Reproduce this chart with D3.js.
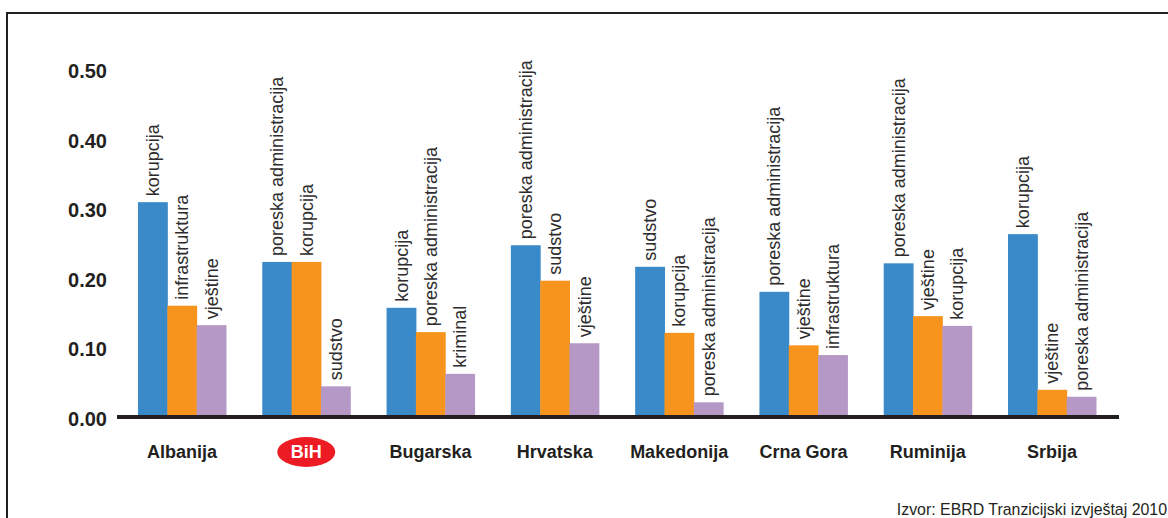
<!DOCTYPE html>
<html>
<head>
<meta charset="utf-8">
<script src="https://cdn.jsdelivr.net/npm/d3@7"></script>
<style>
  html, body { margin: 0; padding: 0; background: #fff; }
  svg { display: block; }
</style>
</head>
<body>
<div id="chart"></div>
<script>
// countries (x categories)
var countries = ["Albanija", "BiH", "Bugarska", "Hrvatska", "Makedonija", "Crna Gora", "Ruminija", "Srbija"];

// the three biggest obstacles per country, in bar order
var firstValues  = [0.312, 0.226, 0.160, 0.250, 0.219, 0.183, 0.224, 0.266];
var secondValues = [0.163, 0.226, 0.125, 0.199, 0.124, 0.106, 0.148, 0.042];
var thirdValues  = [0.135, 0.047, 0.065, 0.109, 0.024, 0.092, 0.134, 0.032];

var firstLabels  = ["korupcija", "poreska administracija", "korupcija", "poreska administracija", "sudstvo", "poreska administracija", "poreska administracija", "korupcija"];
var secondLabels = ["infrastruktura", "korupcija", "poreska administracija", "sudstvo", "korupcija", "vještine", "vještine", "vještine"];
var thirdLabels  = ["vještine", "sudstvo", "kriminal", "vještine", "poreska administracija", "infrastruktura", "korupcija", "poreska administracija"];

var yTicks = [0, 0.1, 0.2, 0.3, 0.4, 0.5];
var highlight = "BiH";
var source = "Izvor: EBRD Tranzicijski izvještaj 2010";

var svgWidth = 1168;
var svgHeight = 518;
var colors = ["#3a89c9", "#f7941d", "#b598c6"];
var ink = "#231f20";

var svg = d3.select("#chart")
    .append("svg")
    .attr("width", svgWidth)
    .attr("height", svgHeight)
    .style("font-family", "'Liberation Sans', Arial, sans-serif");

// frame
svg.append("rect")
    .attr("x", 7)
    .attr("y", 13)
    .attr("width", 1300)
    .attr("height", 700)
    .attr("fill", "none")
    .attr("stroke", ink)
    .attr("stroke-width", 2);

// scales
var xscale = d3.scaleBand()
    .domain(countries)
    .range([138, 1096])
    .paddingInner(0.292)
    .paddingOuter(0);

var xsub = d3.scaleBand()
    .domain([0, 1, 2])
    .range([0, xscale.bandwidth()]);

var yscale = d3.scaleLinear()
    .domain([0, 0.5])
    .range([419, 71.5]);

// rows for bars
var rows = [];
countries.forEach(function (c, i) {
    rows.push({ country: c, k: 0, value: firstValues[i], label: firstLabels[i] });
    rows.push({ country: c, k: 1, value: secondValues[i], label: secondLabels[i] });
    rows.push({ country: c, k: 2, value: thirdValues[i], label: thirdLabels[i] });
});

// y axis labels
var yAxis = d3.axisLeft(yscale)
    .tickValues(yTicks)
    .tickFormat(d3.format(".2f"))
    .tickSize(0)
    .tickPadding(0);

var yG = svg.append("g")
    .attr("transform", "translate(107, 0)")
    .call(yAxis);
yG.select(".domain").remove();
yG.selectAll("text")
    .attr("fill", ink)
    .style("font-size", "20px")
    .style("font-weight", "bold")
    .style("font-family", "'Liberation Sans', Arial, sans-serif");

// bars
svg.selectAll("rect.bar")
    .data(rows)
    .enter()
    .append("rect")
    .attr("class", "bar")
    .attr("x", d => xscale(d.country) + xsub(d.k))
    .attr("y", d => yscale(d.value))
    .attr("width", xsub.bandwidth() + 0.5)
    .attr("height", d => yscale(0) - yscale(d.value))
    .attr("fill", d => colors[d.k]);

// vertical labels above bars
svg.selectAll("text.barlabel")
    .data(rows)
    .enter()
    .append("text")
    .attr("class", "barlabel")
    .attr("transform", d => `translate(${xscale(d.country) + xsub(d.k) + xsub.bandwidth() / 2}, ${yscale(d.value) - 6}) rotate(-90)`)
    .attr("dy", "0.35em")
    .attr("fill", "#2e2c2d")
    .style("font-size", "18px")
    .text(d => d.label);

// baseline
svg.append("line")
    .attr("x1", 117)
    .attr("x2", 1119)
    .attr("y1", 417)
    .attr("y2", 417)
    .attr("stroke", ink)
    .attr("stroke-width", 4);

// country labels
var cats = svg.selectAll("g.cat")
    .data(countries)
    .enter()
    .append("g")
    .attr("class", "cat")
    .attr("transform", d => `translate(${xscale(d) + xscale.bandwidth() / 2}, 452)`);

cats.filter(d => d === highlight)
    .append("ellipse")
    .attr("rx", 29)
    .attr("ry", 15)
    .attr("fill", "#ed1c24");

cats.append("text")
    .attr("text-anchor", "middle")
    .attr("dy", "0.35em")
    .attr("fill", d => d === highlight ? "#fff" : ink)
    .style("font-size", "18px")
    .style("font-weight", "bold")
    .text(d => d);

// source
svg.append("text")
    .attr("x", 1167)
    .attr("y", 515)
    .attr("text-anchor", "end")
    .attr("fill", ink)
    .style("font-size", "15.9px")
    .text(source);
</script>
</body>
</html>
